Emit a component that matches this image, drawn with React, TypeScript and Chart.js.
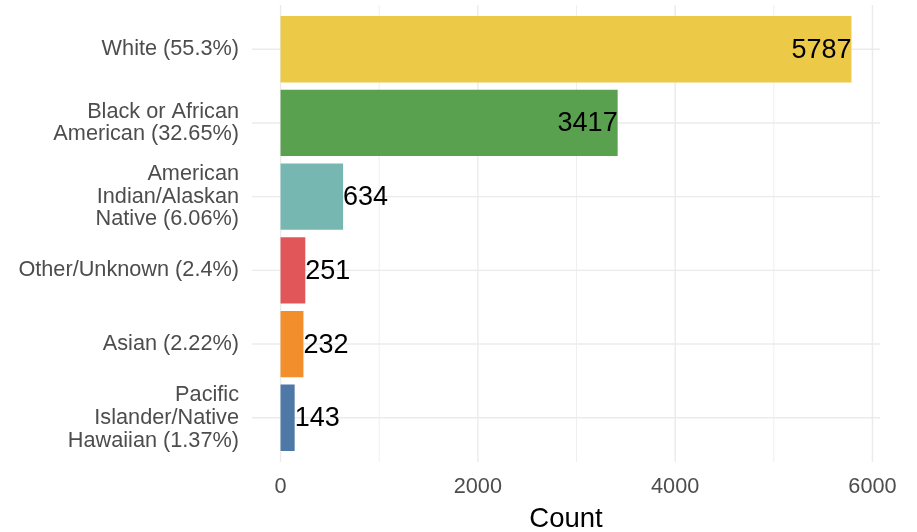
import React, { useEffect, useRef } from "react";
import { Chart, registerables } from "chart.js";

Chart.register(...registerables);

const categories: string[][] = [
  ["White (55.3%)"],
  ["Black or African", "American (32.65%)"],
  ["American", "Indian/Alaskan", "Native (6.06%)"],
  ["Other/Unknown (2.4%)"],
  ["Asian (2.22%)"],
  ["Pacific", "Islander/Native", "Hawaiian (1.37%)"],
];
const counts = [5787, 3417, 634, 251, 232, 143];
const barColors = ["#EDC948", "#59A14F", "#76B7B2", "#E15759", "#F28E2B", "#4E79A7"];
const xTicks = [0, 2000, 4000, 6000];
const xMinorGrid = [1000, 3000, 5000];
const xAxisTitle = "Count";

const FONT = "'Liberation Sans', Arial, sans-serif";

const gridPlugin = {
  id: "ggGrid",
  beforeDatasetsDraw(chart: any) {
    const { ctx, chartArea, scales } = chart;
    const x = scales.x;
    const y = scales.y;
    ctx.save();
    ctx.strokeStyle = "#EBEBEB";
    const line = (x1: number, y1: number, x2: number, y2: number) => {
      ctx.beginPath();
      ctx.moveTo(x1, y1);
      ctx.lineTo(x2, y2);
      ctx.stroke();
    };
    ctx.lineWidth = 0.8;
    for (const v of xMinorGrid) {
      const px = x.getPixelForValue(v);
      line(px, chartArea.top, px, chartArea.bottom);
    }
    ctx.lineWidth = 1.4;
    for (const v of xTicks) {
      const px = x.getPixelForValue(v);
      line(px, chartArea.top, px, chartArea.bottom);
    }
    categories.forEach((_, i) => {
      const py = y.getPixelForValue(i);
      line(chartArea.left, py, chartArea.right, py);
    });
    ctx.restore();
  },
};

const labelPlugin = {
  id: "barLabels",
  afterDatasetsDraw(chart: any) {
    const { ctx } = chart;
    const meta = chart.getDatasetMeta(0);
    const maxVal = Math.max(...counts);
    ctx.save();
    ctx.font = `27px ${FONT}`;
    ctx.fillStyle = "#000000";
    ctx.textBaseline = "middle";
    meta.data.forEach((el: any, i: number) => {
      const v = counts[i];
      const inside = v > maxVal * 0.25;
      ctx.textAlign = inside ? "right" : "left";
      ctx.fillText(String(v), el.x, el.y + 1);
    });
    ctx.restore();
  },
};

export default function App() {
  const ref = useRef<HTMLCanvasElement | null>(null);

  useEffect(() => {
    document.body.style.margin = "0";
    if (!ref.current) return;
    const maxVal = Math.max(...counts);
    const chart = new Chart(ref.current, {
      type: "bar",
      data: {
        datasets: [
          {
            data: counts.map((v, i) => ({ x: v, y: i })),
            backgroundColor: barColors,
            borderWidth: 0,
            barPercentage: 0.9,
            categoryPercentage: 1,
          },
        ],
      },
      options: {
        indexAxis: "y",
        responsive: false,
        animation: false,
        layout: { autoPadding: false, padding: { top: 5, right: 37, left: 0, bottom: 0 } },
        plugins: {
          legend: { display: false },
          tooltip: { enabled: false },
        },
        scales: {
          x: {
            type: "linear",
            min: -0.05 * maxVal,
            max: 1.05 * maxVal,
            grid: { display: false, drawTicks: false },
            border: { display: false },
            afterBuildTicks: (s: any) => {
              s.ticks = xTicks.map((v) => ({ value: v }));
            },
            afterFit: (s: any) => {
              s.height = 70;
              s.paddingLeft = 0;
              s.paddingRight = 0;
            },
            ticks: {
              autoSkip: false,
              maxRotation: 0,
              color: "#4D4D4D",
              padding: 12,
              font: { family: FONT, size: 21.7 },
              callback: (v: any) => String(v),
            },
            title: {
              display: true,
              text: xAxisTitle,
              color: "#000000",
              padding: { top: 0, bottom: 0 },
              font: { family: FONT, size: 27.5, lineHeight: 0.88 },
            },
          },
          y: {
            type: "linear",
            offset: false,
            min: -0.6,
            max: categories.length - 0.4,
            reverse: true,
            grid: { display: false, drawTicks: false, offset: false },
            border: { display: false },
            afterBuildTicks: (s: any) => {
              s.ticks = categories.map((_, i) => ({ value: i }));
            },
            afterFit: (s: any) => {
              s.width = 252;
              s.paddingTop = 0;
              s.paddingBottom = 0;
            },
            ticks: {
              autoSkip: false,
              color: "#4D4D4D",
              padding: 13,
              font: { family: FONT, size: 21.7, lineHeight: 1.05 },
              callback: (v: any) => categories[Math.round(Number(v))] ?? "",
            },
          },
        },
      },
      plugins: [gridPlugin, labelPlugin],
    } as any);
    return () => chart.destroy();
  }, []);

  return <canvas ref={ref} width={917} height={532} style={{ display: "block" }} />;
}
